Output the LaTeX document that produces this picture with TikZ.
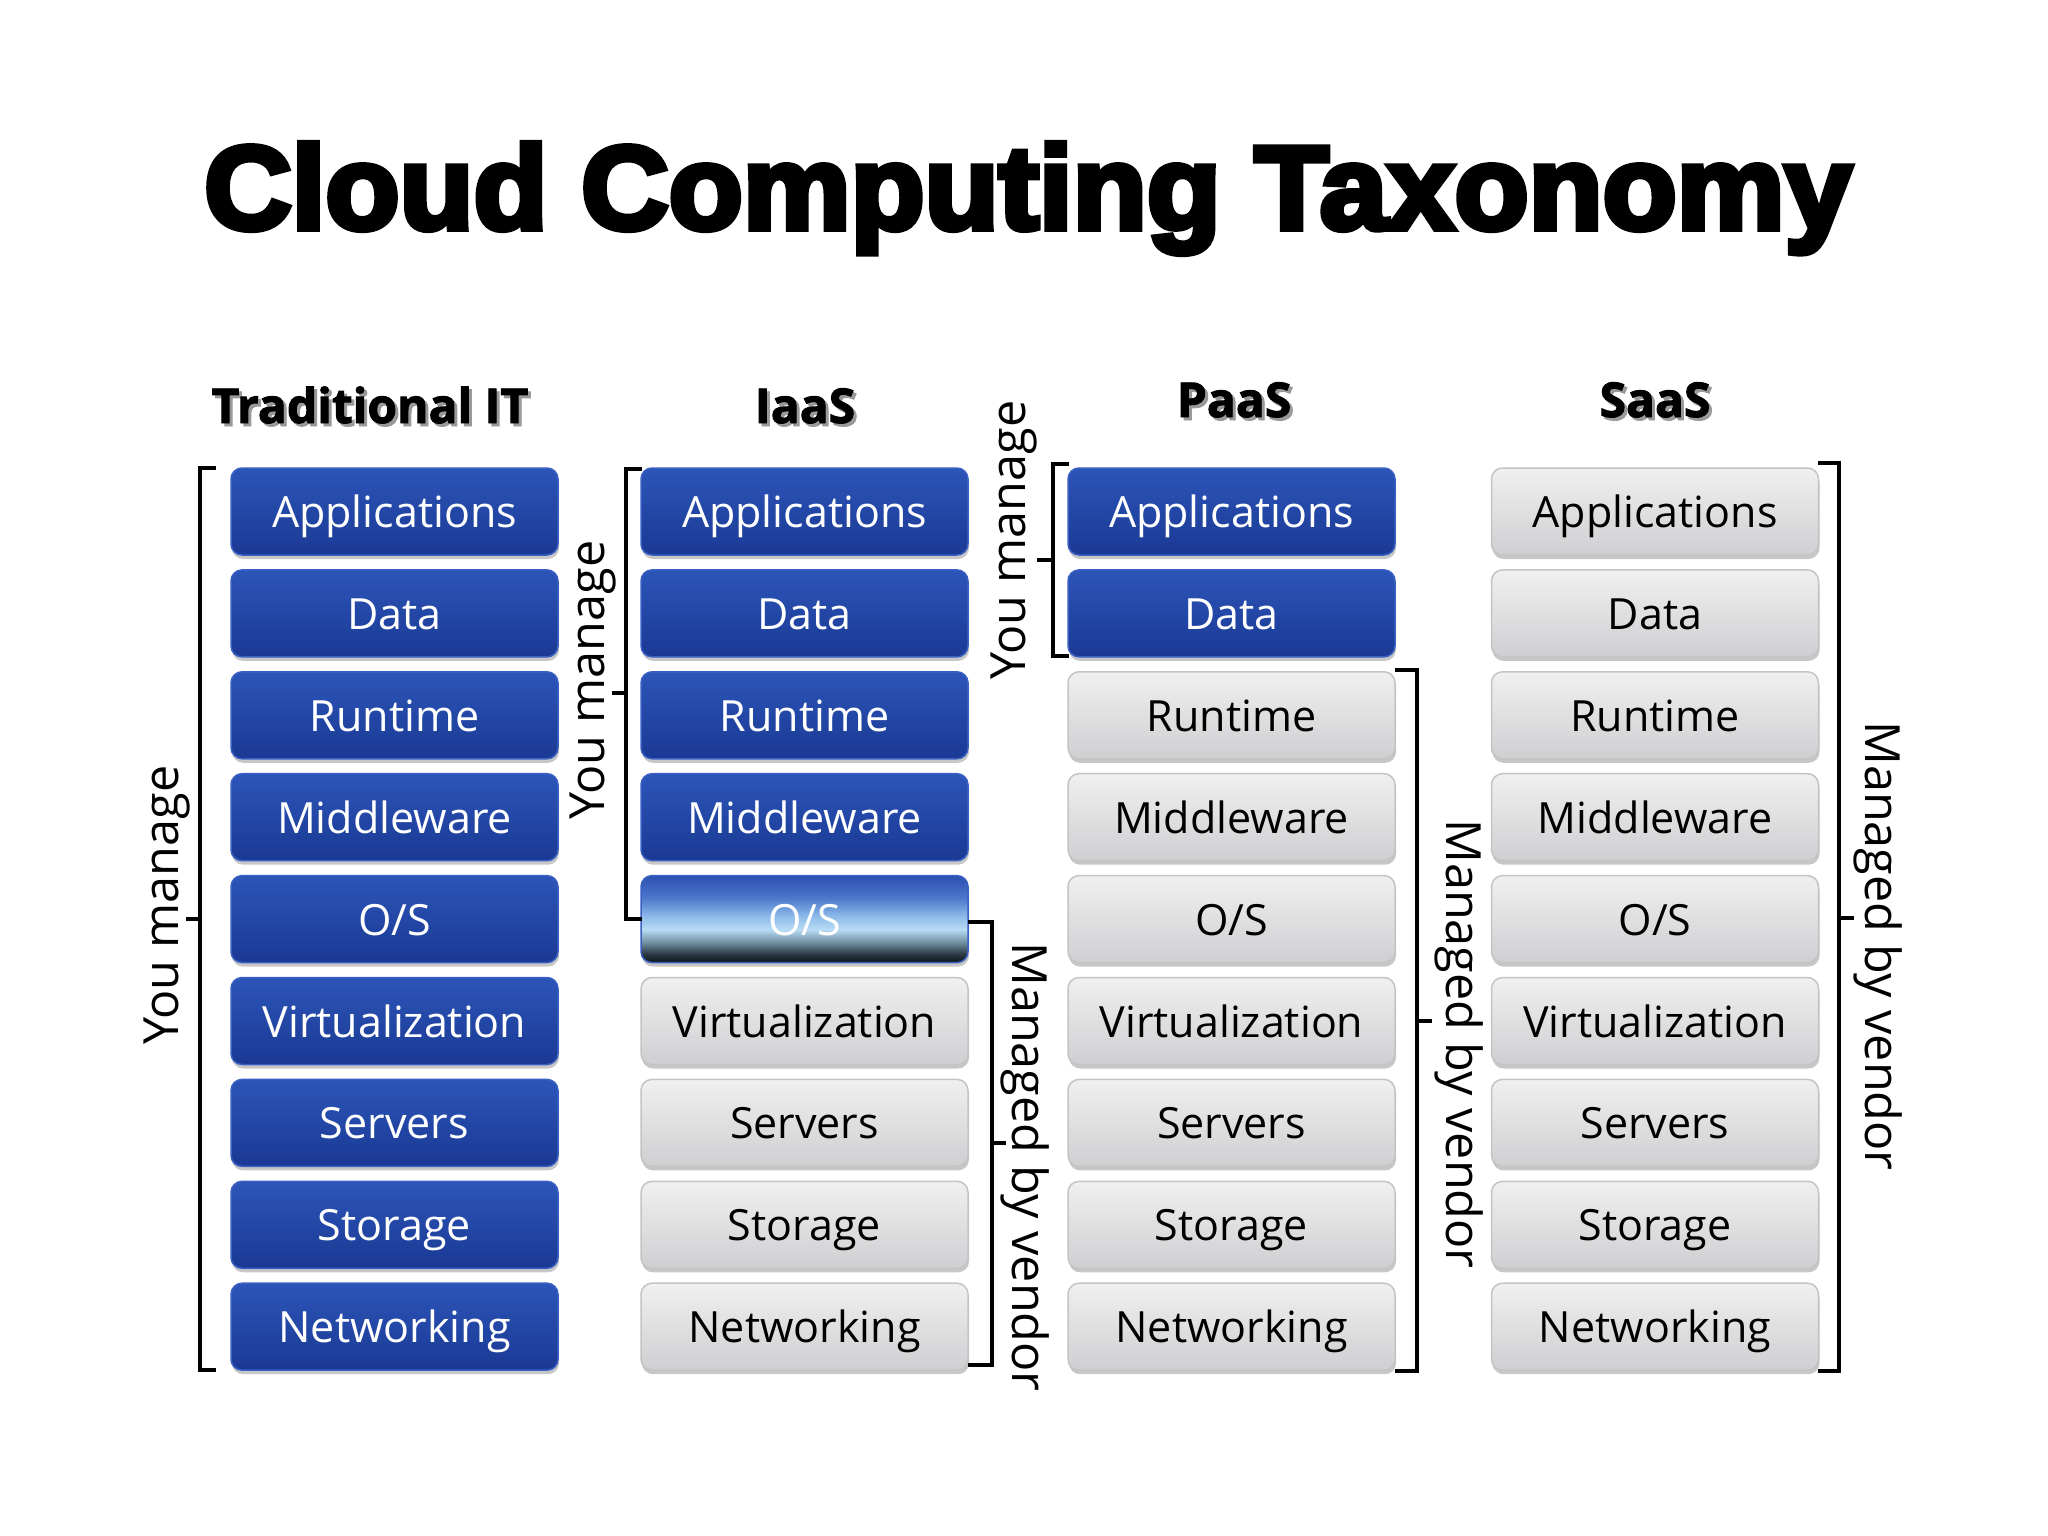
\documentclass[tikz,border=0pt]{standalone}
\usepackage{fontspec}
\setmainfont{Open Sans}
\newfontfamily\titlefont{Liberation Sans}[BoldFeatures={FakeBold=5}]
\newfontfamily\headfont{Open Sans}[BoldFeatures={FakeBold=2}]
\usetikzlibrary{shadows}
\definecolor{bluetop}{HTML}{2C55B8}
\definecolor{bluebot}{HTML}{1A3994}
\definecolor{blueedge}{HTML}{3A60C4}
\definecolor{graytop}{HTML}{F0F0F0}
\definecolor{graybot}{HTML}{CFCFD2}
\definecolor{grayedge}{HTML}{C4C4C6}
\definecolor{os1}{HTML}{0A1418}
\definecolor{os2}{HTML}{2A3A45}
\definecolor{os3}{HTML}{6A8898}
\definecolor{os4}{HTML}{B8DCF5}
\definecolor{os5}{HTML}{8AB8E8}
\definecolor{os6}{HTML}{4D78CC}
\definecolor{os7}{HTML}{2A50B0}
\pgfdeclareverticalshading{osshade}{100bp}{color(0bp)=(os1); color(25bp)=(os1); color(30bp)=(os2); color(36bp)=(os3); color(44bp)=(os4); color(52bp)=(os5); color(62bp)=(os6); color(75bp)=(os7); color(100bp)=(os7)}
\tikzset{
  layerbox/.style={rounded corners=11pt, minimum width=327pt, minimum height=87pt, inner sep=0pt,
     text height=32pt, text depth=0pt, font=\fontsize{43}{43}\selectfont, line width=1.5pt,
     drop shadow={shadow xshift=1pt, shadow yshift=-4pt, opacity=0.22, fill=black}},
  bluebox/.style={layerbox, top color=bluetop, bottom color=bluebot, draw=blueedge, text=white},
  graybox/.style={layerbox, top color=graytop, bottom color=graybot, draw=grayedge, text=black},
  osbox/.style={layerbox, shading=osshade, draw=blueedge, text=white},
  brk/.style={line width=4pt, line cap=rect},
  sidelbl/.style={inner sep=0pt, text height=35pt, text depth=11pt, font=\fontsize{48.5}{48.5}\selectfont},
  hdr/.style={anchor=base, inner sep=0pt, font=\headfont\bfseries\fontsize{48}{48}\selectfont},
}
\begin{document}
\begin{tikzpicture}[x=1pt,y=-1pt]
\useasboundingbox (0,0) rectangle (2048,1536);
\fill[white] (0,0) rectangle (2048,1536);
% title
\node[anchor=base, inner sep=0pt] (title) at (1028,229) {\resizebox{1647pt}{86pt}{\titlefont\bfseries Cloud Computing Taxonomy}};
% headers
\foreach \nm/\x/\y/\t in {hT/370/423/Traditional IT, hI/805/423/IaaS, hP/1234/417/PaaS, hS/1655/417/SaaS}{
  \node[hdr, text=black!40] at (\x+3,\y+3) {\t};
  \node[hdr] (\nm) at (\x,\y) {\t};
}
% boxes
\foreach \lab [count=\i] in {Applications,Data,Runtime,Middleware,O/S,Virtualization,Servers,Storage,Networking}{
  \pgfmathsetmacro\yy{511.5+(\i-1)*101.9}
  \node[bluebox] (t\i) at (394.5,\yy) {\lab};
  \ifnum\i<5
    \node[bluebox] (i\i) at (804.5,\yy) {\lab};
  \else\ifnum\i=5
    \node[osbox] (i\i) at (804.5,\yy) {\lab};
  \else
    \node[graybox] (i\i) at (804.5,\yy) {\lab};
  \fi\fi
  \ifnum\i<3
    \node[bluebox] (p\i) at (1231.5,\yy) {\lab};
  \else
    \node[graybox] (p\i) at (1231.5,\yy) {\lab};
  \fi
  \node[graybox] (s\i) at (1655,\yy) {\lab};
}
% brackets
\draw[brk] (214,468) -- (200,468) -- (200,1370) -- (214,1370);
\draw[brk] (200,919) -- (188,919);
\draw[brk] (640,469) -- (626,469) -- (626,919) -- (640,919);
\draw[brk] (626,693) -- (614,693);
\draw[brk] (970,922) -- (992,922) -- (992,1365) -- (970,1365);
\draw[brk] (992,1143) -- (1004,1143);
\draw[brk] (1067,464) -- (1053,464) -- (1053,656) -- (1067,656);
\draw[brk] (1053,560) -- (1039,560);
\draw[brk] (1397,670) -- (1417,670) -- (1417,1371) -- (1397,1371);
\draw[brk] (1417,1021) -- (1430,1021);
\draw[brk] (1820,463) -- (1839,463) -- (1839,1371) -- (1820,1371);
\draw[brk] (1839,918) -- (1852,918);
% side labels
\node[sidelbl, rotate=90] (lT) at (166,905) {You manage};
\node[sidelbl, rotate=90] (lI) at (592,680) {You manage};
\node[sidelbl, rotate=-90] (vI) at (1024,1167) {Managed by vendor};
\node[sidelbl, rotate=90] (lP) at (1013,540) {You manage};
\node[sidelbl, rotate=-90] (vP) at (1458,1044) {Managed by vendor};
\node[sidelbl, rotate=-90] (vS) at (1877,946) {Managed by vendor};
\end{tikzpicture}
\end{document}
